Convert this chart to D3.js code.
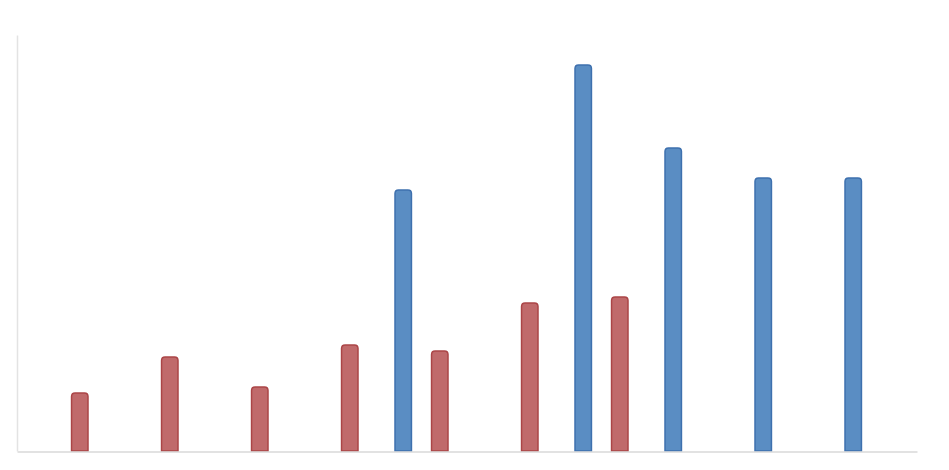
<!DOCTYPE html>
<html>
<head>
<meta charset="utf-8">
<script src="https://cdn.jsdelivr.net/npm/d3@7"></script>
<style>
  html, body { margin: 0; padding: 0; background: #fff; }
  svg { display: block; }
</style>
</head>
<body>
<div id="container"><svg></svg></div>
<script>
let width = 949;
let height = 470;

// categories (no labels shown in the picture)
let categories = ['c1', 'c2', 'c3', 'c4', 'c5', 'c6', 'c7', 'c8', 'c9', 'c10'];
let series = ['blue', 'red'];
let blueValues = [0, 0, 0, 0, 261, 0, 386, 303, 273, 273];
let redValues = [58, 94, 64, 106, 100, 148, 154, 0, 0, 0];
let yMax = 416;

let colors = {
    blue: { fill: '#5a8dc3', stroke: '#3e70ae' },
    red: { fill: '#c06a6b', stroke: '#ab4547' }
};

function barPath(x0, w, yTop, yBase, r) {
    // rounded top corners only
    r = Math.min(r, w / 2, yBase - yTop);
    return `M${x0},${yBase}` +
        `V${yTop + r}` +
        `Q${x0},${yTop} ${x0 + r},${yTop}` +
        `H${x0 + w - r}` +
        `Q${x0 + w},${yTop} ${x0 + w},${yTop + r}` +
        `V${yBase}Z`;
}

function draw_main() {
    let padding = { left: 17, right: 32, top: 35, bottom: 19 };
    let svg = d3.select('#container').select('svg')
        .attr('width', width)
        .attr('height', height);

    let x = d3.scaleBand()
        .domain(categories)
        .range([padding.left, width - padding.right]);

    // blue on the left, red on the right inside each group
    let x1 = d3.scaleBand()
        .domain(series)
        .range([18, 71])
        .paddingInner(0.55);

    let y = d3.scaleLinear()
        .domain([0, yMax])
        .range([height - padding.bottom, padding.top]);

    let rows = [];
    categories.forEach((c, i) => {
        rows.push({ cat: c, key: 'blue', value: blueValues[i] });
        rows.push({ cat: c, key: 'red', value: redValues[i] });
    });

    svg.append('g')
        .selectAll('path')
        .data(rows.filter(d => d.value > 0))
        .enter().append('path')
        .attr('d', d => barPath(x(d.cat) + x1(d.key), x1.bandwidth(), y(d.value), y(0), 3.5))
        .attr('fill', d => colors[d.key].fill)
        .attr('stroke', d => colors[d.key].stroke)
        .attr('stroke-width', 1.5);

    // axes lines
    let axis_x = d3.axisBottom(x).tickSize(0).tickFormat('');
    let xxs = svg.append('g')
        .attr('transform', `translate(0, ${y(0) + 0.5})`)
        .call(axis_x);
    xxs.select('.domain').attr('stroke', '#d9d9d9').attr('stroke-width', 1.5);

    let axis_y = d3.axisLeft(y).tickSize(0).tickValues([]);
    let yys = svg.append('g')
        .attr('transform', `translate(${padding.left}, 0)`)
        .call(axis_y);
    yys.select('.domain').attr('stroke', '#e3e3e3').attr('stroke-width', 1.5);
}

draw_main();
</script>
</body>
</html>
